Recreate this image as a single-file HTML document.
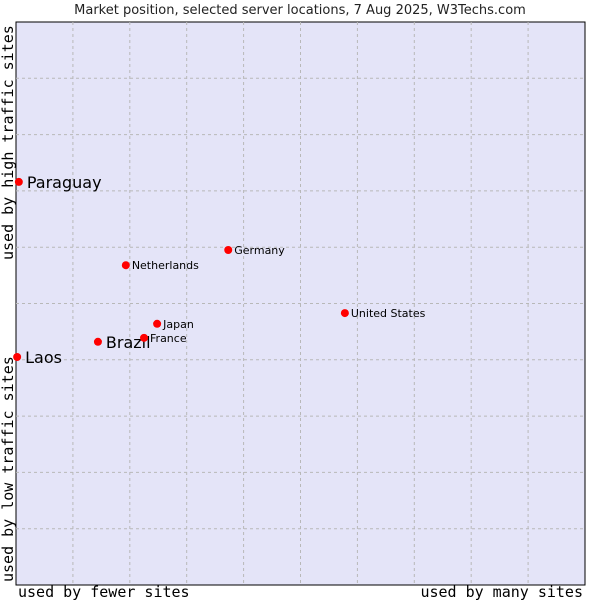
<!DOCTYPE html>
<html><head><meta charset="utf-8"><style>
body{margin:0;background:#fff;width:600px;height:600px;overflow:hidden}
svg text{font-family:"DejaVu Sans","Liberation Sans",sans-serif}
.mono{font-family:"DejaVu Sans Mono","Liberation Mono",monospace}
</style></head><body>
<svg id="chart" width="600" height="600">
<text x="300" y="14" text-anchor="middle" font-size="13" fill="#222">Market position, selected server locations, 7 Aug 2025, W3Techs.com</text>
<rect x="16" y="22" width="569" height="563" fill="#e4e4f8" stroke="#000" stroke-width="1"/>
<g id="grid"></g>
<g id="points"></g>
<text class="mono" x="18" y="597" font-size="15" fill="#000">used by fewer sites</text>
<text class="mono" x="583" y="597" font-size="15" fill="#000" text-anchor="end">used by many sites</text>
<text class="mono" transform="translate(13,582) rotate(-90)" font-size="15" fill="#000">used by low traffic sites</text>
<text class="mono" transform="translate(13,260) rotate(-90)" font-size="15" fill="#000">used by high traffic sites</text>
</svg>
<script>
const names=["Paraguay","Laos","Brazil","France","Japan","Netherlands","Germany","United States"];
const xValues=[0.5,0.2,14.4,22.5,24.8,19.3,37.3,57.8];
const yValues=[71.6,40.5,43.2,43.9,46.4,56.8,59.5,48.3];
const bigLabel=[true,true,true,false,false,false,false,false];
const X0=16,X1=585,Y0=585,Y1=22;
const sx=v=>X0+v/100*(X1-X0);
const sy=v=>Y0-v/100*(Y0-Y1);
const NS="http://www.w3.org/2000/svg";
const grid=document.getElementById('grid');
for(let i=1;i<10;i++){
  const v=i*10;
  const l1=document.createElementNS(NS,'line');
  
  
  l1.setAttribute('x1',sx(v));l1.setAttribute('x2',sx(v));l1.setAttribute('y1',Y1);l1.setAttribute('y2',Y0);
  l1.setAttribute('stroke','#b8b8b8');l1.setAttribute('stroke-dasharray','3,3');
  grid.appendChild(l1);
  const l2=document.createElementNS(NS,'line');
  
  
  l2.setAttribute('y1',sy(v));l2.setAttribute('y2',sy(v));l2.setAttribute('x1',X0);l2.setAttribute('x2',X1);
  l2.setAttribute('stroke','#b8b8b8');l2.setAttribute('stroke-dasharray','3,3');
  grid.appendChild(l2);
}
const pts=document.getElementById('points');
names.forEach((n,i)=>{
  const cx=sx(xValues[i]),cy=sy(yValues[i]);
  const c=document.createElementNS(NS,'circle');
  
  
  c.setAttribute('cx',cx);c.setAttribute('cy',cy);c.setAttribute('r',4);c.setAttribute('fill','#ff0000');
  pts.appendChild(c);
  const t=document.createElementNS(NS,'text');
  
  
  t.setAttribute('x',cx+(bigLabel[i]?8:6));
  t.setAttribute('y',cy+(bigLabel[i]?6:4));
  t.setAttribute('font-size',bigLabel[i]?16:11);
  t.setAttribute('fill','#000');
  t.textContent=n;
  pts.appendChild(t);
});
</script>
</body></html>
